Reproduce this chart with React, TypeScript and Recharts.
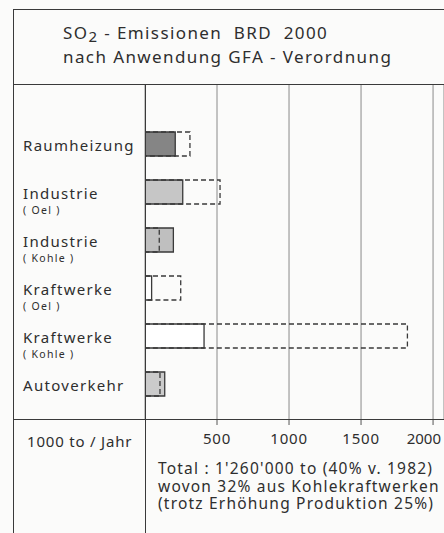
import React from 'react';
import { BarChart, Bar, XAxis, YAxis, CartesianGrid, Cell } from 'recharts';

// Quellen, Werte in 1000 t/Jahr
const categories = ['Raumheizung', 'Industrie', 'Industrie', 'Kraftwerke', 'Kraftwerke', 'Autoverkehr'];
const subLabels = ['', 'Oel', 'Kohle', 'Oel', 'Kohle', ''];
const values2000 = [210, 262, 197, 46, 410, 137];
const values1982 = [312, 521, 99, 248, 1822, 104];
const fills = ['#858585', '#c6c6c6', '#bfbfbf', '#ffffff', '#ffffff', '#cbcbcb'];
const xTicks = [500, 1000, 1500, 2000];

const data = categories.map((name, i) => ({
  key: `${name}-${i}`,
  name,
  sub: subLabels[i],
  v2000: values2000[i],
  v1982: values1982[i],
}));

const FONT = '"Noto Sans", sans-serif';
const INK = '#2e2e2e';
const LINE = '#3a3a3a';

const CategoryTick = (props: any) => {
  const { y, index } = props;
  const d = data[index];
  if (!d) return null;
  return (
    <g>
      <text x={23} y={y + 6.5} fontSize={15} fill={INK} fontFamily={FONT} letterSpacing={1.3}>
        {d.name}
      </text>
      {d.sub && (
        <text x={23} y={y + 22} fontSize={10.5} fill={INK} fontFamily={FONT} letterSpacing={1.3}>
          {`( ${d.sub} )`}
        </text>
      )}
    </g>
  );
};

const renderValueTick = (props: any) => {
  const { x, y, payload, index } = props;
  // the last label is pulled left so it stays inside the page
  const last = index === xTicks.length - 1 || String(payload?.value) === '2000';
  return (
    <g key={`tick-${index}`}>
      <text
        x={last ? 441 : x}
        y={y + 17}
        textAnchor={last ? 'end' : 'middle'}
        fontSize={15}
        fill={INK}
        fontFamily={FONT}
        letterSpacing={last ? 0 : 0.8}
      >
        {payload.value}
      </text>
    </g>
  );
};

const hLine = (top: number, left: number, width: number) => (
  <div style={{ position: 'absolute', top, left, width, height: 1.3, background: LINE }} />
);
const vLine = (left: number, top: number, height: number) => (
  <div style={{ position: 'absolute', top, left, width: 1.3, height, background: LINE }} />
);

export default function App() {
  return (
    <div
      style={{
        position: 'fixed',
        top: 0,
        left: 0,
        width: 444,
        height: 533,
        overflow: 'hidden',
        background: '#fbfbfa',
        fontFamily: FONT,
        color: INK,
      }}
    >
      <BarChart
        width={444}
        height={533}
        data={data}
        layout='vertical'
        margin={{ top: 84, right: 0, bottom: 84, left: 0 }}
      >
        <CartesianGrid horizontal={false} stroke='#8a8a8a' strokeWidth={1} />
        <XAxis
          type='number'
          domain={[0, 2076]}
          ticks={xTicks}
          interval={0}
          height={30}
          axisLine={false}
          tickLine={{ stroke: '#555' }}
          tickSize={6}
          tick={renderValueTick}
          allowDataOverflow
        />
        <YAxis
          yAxisId='a'
          type='category'
          dataKey='key'
          width={145}
          axisLine={false}
          tickLine={false}
          padding={{ top: 36, bottom: 11 }}
          tick={<CategoryTick />}
        />
        <YAxis
          yAxisId='b'
          type='category'
          dataKey='key'
          hide
          padding={{ top: 36, bottom: 11 }}
        />
        <Bar yAxisId='a' dataKey='v2000' barSize={24} stroke={LINE} strokeWidth={1.3} isAnimationActive={false}>
          {data.map((d, i) => (
            <Cell key={d.key} fill={fills[i]} />
          ))}
        </Bar>
        <Bar
          yAxisId='b'
          dataKey='v1982'
          barSize={24}
          fill='none'
          stroke={LINE}
          strokeWidth={1.3}
          strokeDasharray='5 3'
          isAnimationActive={false}
        />
      </BarChart>

      {/* Rahmen */}
      {hLine(9, 13, 431)}
      {vLine(13, 9, 524)}
      {hLine(84, 13, 431)}
      {vLine(145, 84, 449)}
      {hLine(419, 13, 431)}

      {/* Titel */}
      <div
        style={{
          position: 'absolute',
          left: 63,
          top: 21,
          fontSize: 17,
          lineHeight: '23px',
          letterSpacing: 1.4,
          whiteSpace: 'nowrap',
        }}
      >
        <div>
          SO<span style={{ fontSize: 15, position: 'relative', top: 3 }}>2</span> - Emissionen&nbsp; BRD&nbsp; 2000
        </div>
        <div>nach Anwendung GFA - Verordnung</div>
      </div>

      {/* Einheit */}
      <div
        style={{
          position: 'absolute',
          left: 27,
          top: 434,
          fontSize: 15,
          lineHeight: '15px',
          letterSpacing: 0.8,
          whiteSpace: 'nowrap',
        }}
      >
        1000 to / Jahr
      </div>

      {/* Anmerkungen */}
      <div
        style={{
          position: 'absolute',
          left: 158,
          top: 460,
          fontSize: 15.5,
          lineHeight: '17.5px',
          letterSpacing: 1.2,
          whiteSpace: 'nowrap',
        }}
      >
        <div>Total : 1'260'000 to (40% v. 1982)</div>
        <div>wovon 32% aus Kohlekraftwerken</div>
        <div>(trotz Erhöhung Produktion 25%)</div>
      </div>
    </div>
  );
}
